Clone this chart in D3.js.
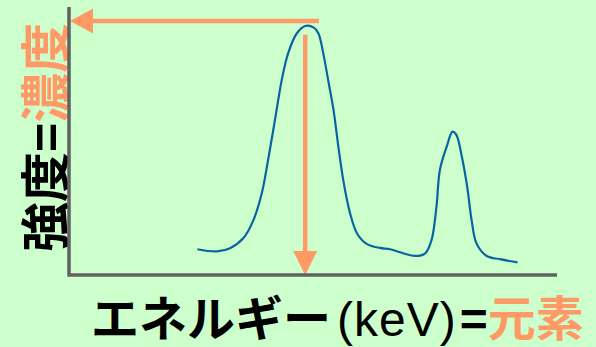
<!DOCTYPE html>
<html>
<head>
<meta charset="utf-8">
<script src="https://cdn.jsdelivr.net/npm/d3@7"></script>
<style>
	html, body { margin: 0; padding: 0; background: #ccffcc; }
	svg { display: block; }
</style>
</head>
<body>
<svg width="596" height="347"></svg>
<script>
/* global d3 */

/////////////////////////////////////////////////////////////////////////
// spectrum data (arbitrary units)

var energy = [26.3, 30.3, 33.0, 35.7, 37.8, 39.5, 40.8, 42.2, 43.6, 44.9, 46.7, 48.4, 50.1, 51.1,
	52.1, 53.1, 54.2, 55.2, 56.2, 57.6, 59.0, 61.0, 63.7, 65.8, 68.5, 70.9, 73.0, 74.3, 75.3,
	76.0, 77.4, 78.6, 79.4, 80.5, 81.6, 82.5, 83.5, 85.6, 88.3, 91.9]
var intensity = [9.6, 8.8, 10.0, 13.7, 20.5, 30.5, 42.9, 57.8, 72.8, 82.7, 90.2, 92.9, 92.4, 90.2,
	82.7, 72.8, 61.6, 47.9, 35.4, 23.0, 15.6, 11.6, 10.1, 9.6, 8.1, 7.1, 8.1, 13.1, 25.5,
	39.2, 47.9, 53.5, 52.2, 44.1, 32.9, 20.5, 11.8, 7.1, 5.9, 4.7]

// arrows: peak energy -> element, peak intensity -> concentration
var peakEnergy = 48.4
var hArrowLevel = 94.8
var hArrowStart = 51.2
var vArrowTop = 89.6

var xLabel = [
	{ t: 'エネルギー', weight: 'bold', color: '#000' },
	{ t: '(keV)', weight: 'normal', color: '#000' },
	{ t: '=', weight: 'bold', color: '#000' },
	{ t: '元素', weight: 'bold', color: '#ff9966' }
]
var yLabel = [
	{ t: '強度', color: '#000' },
	{ t: '=', color: '#000' },
	{ t: '濃度', color: '#ff9966' }
]

/////////////////////////////////////////////////////////////////////////

var orange = '#ff9966'
var svg = d3.select('svg')

var x = d3.scaleLinear().domain([0, 100]).range([69, 557])
var y = d3.scaleLinear().domain([0, 100]).range([275, 7])

var font = '"Liberation Sans", Arial, "Noto Sans CJK JP", sans-serif'

// y label (rotated)
svg.append('text')
	.attr('transform', 'translate(64,252) rotate(-90)')
	.attr('font-family', font)
	.attr('font-size', 50)
	.attr('font-weight', 'bold')
	.selectAll('tspan').data(yLabel).enter().append('tspan')
	.attr('fill', function(d) { return d.color })
	.text(function(d) { return d.t })

// x label
svg.append('text')
	.attr('x', 91)
	.attr('y', 336)
	.attr('font-family', font)
	.attr('font-size', 48)
	.selectAll('tspan').data(xLabel).enter().append('tspan')
	.attr('font-weight', function(d) { return d.weight })
	.attr('fill', function(d) { return d.color })
	.attr('dx', function(d, i) { return i == 1 ? 6 : i == 2 ? 3 : 0 })
	.attr('letter-spacing', function(d, i) { return i == 1 ? 1 : 0 })
	.text(function(d) { return d.t })

// spectrum
var pts = energy.map(function(e, i) { return [e, intensity[i]] })
var line = d3.line()
	.x(function(d) { return x(d[0]) })
	.y(function(d) { return y(d[1]) })
	.curve(d3.curveCatmullRom.alpha(0.5))

svg.append('path')
	.datum(pts)
	.attr('d', line)
	.attr('fill', 'none')
	.attr('stroke', '#0a64a0')
	.attr('stroke-width', 2.2)

// horizontal arrow
svg.append('line')
	.attr('x1', x(hArrowStart)).attr('y1', y(hArrowLevel))
	.attr('x2', x(0) + 20).attr('y2', y(hArrowLevel))
	.attr('stroke', orange).attr('stroke-width', 4.5)
svg.append('path')
	.attr('d', d3.line()([[x(0) + 1, y(hArrowLevel)], [x(0) + 24, y(hArrowLevel) - 12.5], [x(0) + 24, y(hArrowLevel) + 12.5]]) + 'Z')
	.attr('fill', orange)

// vertical arrow
svg.append('line')
	.attr('x1', x(peakEnergy)).attr('y1', y(vArrowTop))
	.attr('x2', x(peakEnergy)).attr('y2', y(0) - 20)
	.attr('stroke', orange).attr('stroke-width', 4.5)
svg.append('path')
	.attr('d', d3.line()([[x(peakEnergy), y(0)], [x(peakEnergy) - 12, y(0) - 24], [x(peakEnergy) + 12, y(0) - 24]]) + 'Z')
	.attr('fill', orange)

// axes
svg.append('path')
	.attr('d', d3.line()([[x(0), y(100)], [x(0), y(0)], [x(100), y(0)]]))
	.attr('fill', 'none')
	.attr('stroke', '#616161')
	.attr('stroke-width', 3.5)
</script>
</body>
</html>
